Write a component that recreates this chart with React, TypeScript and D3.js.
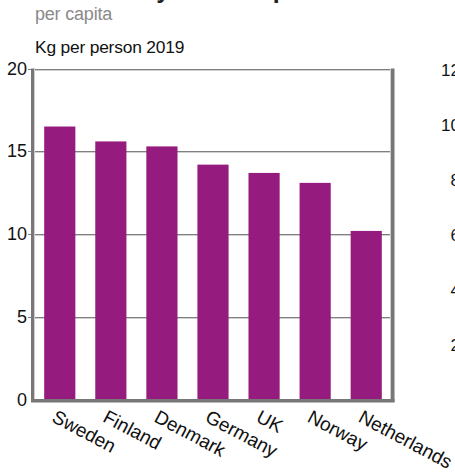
import React from "react";
import * as d3 from "d3";

const categories = ["Sweden", "Finland", "Denmark", "Germany", "UK", "Norway", "Netherlands"];
const values = [16.5, 15.6, 15.3, 14.2, 13.7, 13.1, 10.2];
const yTicks = [0, 5, 10, 15, 20];
const rightTicks = [2, 4, 6, 8, 10, 12];
const titleText = "Total candy consumption";
const subtitleText = "per capita";
const unitText = "Kg per person 2019";

const W = 455;
const H = 474;
const FONT = "'Liberation Sans', Arial, Helvetica, sans-serif";

export default function App() {
  const left = 35;
  const right = 391;
  const x = d3.scaleBand<string>().domain(categories).range([left, right]).paddingInner(0.39).paddingOuter(0.18);
  const y = d3.scaleLinear().domain([0, 20]).range([400, 68.5]);
  const yR = d3.scaleLinear().domain([0, 12]).range([400, 70]);
  const bw = x.bandwidth();
  const frame = "#777777";

  return (
    <div style={{ position: "fixed", left: 0, top: 0, width: W, height: H, background: "#fff" }}>
      <svg width={W} height={H} style={{ display: "block" }} fontFamily={FONT}>
        <rect x={0} y={0} width={W} height={H} fill="#fff" />
        <text x={33} y={-2.5} fontSize={25} fontWeight="bold" fill="#222">{titleText}</text>
        <text x={35} y={19.5} fontSize={18} fill="#8a8a8a" letterSpacing={-0.2}>{subtitleText}</text>
        <text x={35} y={53} fontSize={17.4} fill="#111" letterSpacing={-0.2}>{unitText}</text>

        {/* grid lines */}
        {yTicks.filter((t) => t > 0).map((t) => (
          <g key={t}>
            <line x1={28} x2={right} y1={Math.round(y(t)) + 0.5} y2={Math.round(y(t)) + 0.5} stroke="#808080" strokeWidth={1} />
            <line x1={35} x2={right} y1={Math.round(y(t)) + 1.5} y2={Math.round(y(t)) + 1.5} stroke="#d0d0d0" strokeWidth={1} />
          </g>
        ))}

        {/* bars */}
        {categories.map((c, i) => (
          <rect key={c} x={x(c)} y={y(values[i])} width={bw} height={y(0) - y(values[i])} fill="#951b7e" />
        ))}

        {/* frame */}
        <rect x={31} y={y(20)} width={3.5} height={y(0) - y(20) + 2} fill={frame} />
        <line x1={34.5} x2={34.5} y1={y(20)} y2={y(0)} stroke="#cfcfcf" strokeWidth={1} />
        <rect x={391} y={y(20)} width={3.5} height={y(0) - y(20) + 2} fill={frame} />
        <line x1={390.5} x2={390.5} y1={y(20)} y2={y(0)} stroke="#cfcfcf" strokeWidth={1} />
        <rect x={31} y={399} width={363.5} height={3.5} fill={frame} />

        {/* y tick labels */}
        {yTicks.map((t) => (
          <text key={t} x={27} y={y(t)} textAnchor="end" dominantBaseline="central" fontSize={18} fill="#111">{t}</text>
        ))}

        {/* right partial chart tick labels */}
        {rightTicks.map((t) => (
          <text key={t} x={460} y={yR(t)} textAnchor="end" dominantBaseline="central" fontSize={17} fill="#111">{t}</text>
        ))}

        {/* x labels */}
        {categories.map((c) => (
          <text
            key={c}
            transform={`translate(${(x(c) as number) + bw / 2 - 9},${421}) rotate(28)`}
            fontSize={19}
            fill="#111"
          >
            {c}
          </text>
        ))}
      </svg>
    </div>
  );
}
